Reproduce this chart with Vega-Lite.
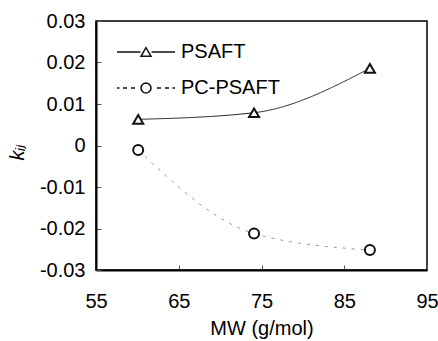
{
  "$schema": "https://vega.github.io/schema/vega-lite/v6.json",
  "width": 331,
  "height": 249,
  "autosize": "none",
  "padding": {"left": 96, "top": 21, "right": 11, "bottom": 71},
  "background": "white",
  "config": {
    "view": {"stroke": "#000", "strokeWidth": 1.5},
    "font": "Liberation Sans",
    "axis": {
      "grid": false,
      "domainColor": "#000",
      "domainWidth": 2,
      "tickColor": "#555",
      "tickSize": -5,
      "labelFont": "Liberation Sans",
      "labelFontSize": 20,
      "labelColor": "#000",
      "titleFont": "Liberation Sans",
      "titleFontSize": 20,
      "titleFontWeight": "normal",
      "titleColor": "#000"
    }
  },
  "data": {
    "values": [
      {"mw": 60.1, "kij": 0.0063, "series": "PSAFT"},
      {"mw": 74.1, "kij": 0.0079, "series": "PSAFT"},
      {"mw": 88.1, "kij": 0.0186, "series": "PSAFT"},
      {"mw": 60.1, "kij": -0.0011, "series": "PC-PSAFT"},
      {"mw": 74.1, "kij": -0.0212, "series": "PC-PSAFT"},
      {"mw": 88.1, "kij": -0.0252, "series": "PC-PSAFT"}
    ]
  },
  "encoding": {
    "x": {
      "field": "mw", "type": "quantitative",
      "scale": {"domain": [55, 95], "nice": false, "zero": false},
      "axis": {"values": [55, 65, 75, 85, 95], "title": "MW  (g/mol)", "labelPadding": 26, "titlePadding": 7, "labelFlush": false}
    },
    "y": {
      "field": "kij", "type": "quantitative",
      "scale": {"domain": [-0.03, 0.03], "nice": false, "zero": false},
      "axis": {
        "values": [-0.03, -0.02, -0.01, 0, 0.01, 0.02, 0.03],
        "labelExpr": "datum.value === 0 ? '0' : (datum.value < 0 ? '-' : '') + format(abs(datum.value), '.2f')",
        "title": "kᵢⱼ",
        "titleFontStyle": "italic",
        "titleFont": "Liberation Sans, DejaVu Sans",
        "labelPadding": 16,
        "titlePadding": 12,
        "titleY": 131,
        "labelFlush": false
      }
    }
  },
  "resolve": {"scale": {"shape": "independent"}, "legend": {"shape": "independent"}},
  "layer": [
    {
      "mark": {"type": "line", "interpolate": "monotone", "strokeWidth": 1},
      "encoding": {
        "detail": {"field": "series"},
        "stroke": {"field": "series", "type": "nominal", "scale": {"domain": ["PSAFT", "PC-PSAFT"], "range": ["#222", "#999"]}, "legend": null},
        "strokeDash": {"field": "series", "type": "nominal", "scale": {"domain": ["PSAFT", "PC-PSAFT"], "range": [[1, 0], [3, 6]]}, "legend": null}
      }
    },
    {
      "mark": {"type": "point", "filled": false, "fill": "white", "fillOpacity": 1, "stroke": "#111", "strokeWidth": 2, "size": 100, "opacity": 1},
      "encoding": {
        "shape": {
          "field": "series", "type": "nominal",
          "scale": {"domain": ["PSAFT", "PC-PSAFT"], "range": ["triangle-up", "circle"]},
          "legend": null
        }
      }
    },
    {
      "mark": {"type": "point", "filled": false, "stroke": "#111", "strokeWidth": 1.5, "size": 100, "opacity": 0},
      "encoding": {
        "shape": {
          "field": "series", "type": "nominal",
          "scale": {
            "domain": ["PSAFT", "PC-PSAFT"],
            "range": [
              "M-5.8,0H-1.1M1.1,0H5.8M0,-0.866L-1,0.866L1,0.866Z",
              "M-5.8,0H-5.3M-4.6,0H-3.8M-3.0,0H-2.2M2.2,0H3.0M3.8,0H4.6M5.3,0H5.8M1,0L0.924,0.383L0.707,0.707L0.383,0.924L0,1L-0.383,0.924L-0.707,0.707L-0.924,0.383L-1,0L-0.924,-0.383L-0.707,-0.707L-0.383,-0.924L0,-1L0.383,-0.924L0.707,-0.707L0.924,-0.383Z"
            ]
          },
          "legend": {
            "title": null,
            "orient": "none",
            "legendX": 40,
            "legendY": 21,
            "padding": 0,
            "symbolSize": 100,
            "symbolOpacity": 1,
            "symbolStrokeWidth": 1.5,
            "symbolStrokeColor": "#111",
            "symbolFillColor": "white",
            "labelOffset": 25,
            "labelFontSize": 20,
            "labelFont": "Liberation Sans",
            "labelColor": "#000",
            "rowPadding": 16
          }
        }
      }
    }
  ]
}
